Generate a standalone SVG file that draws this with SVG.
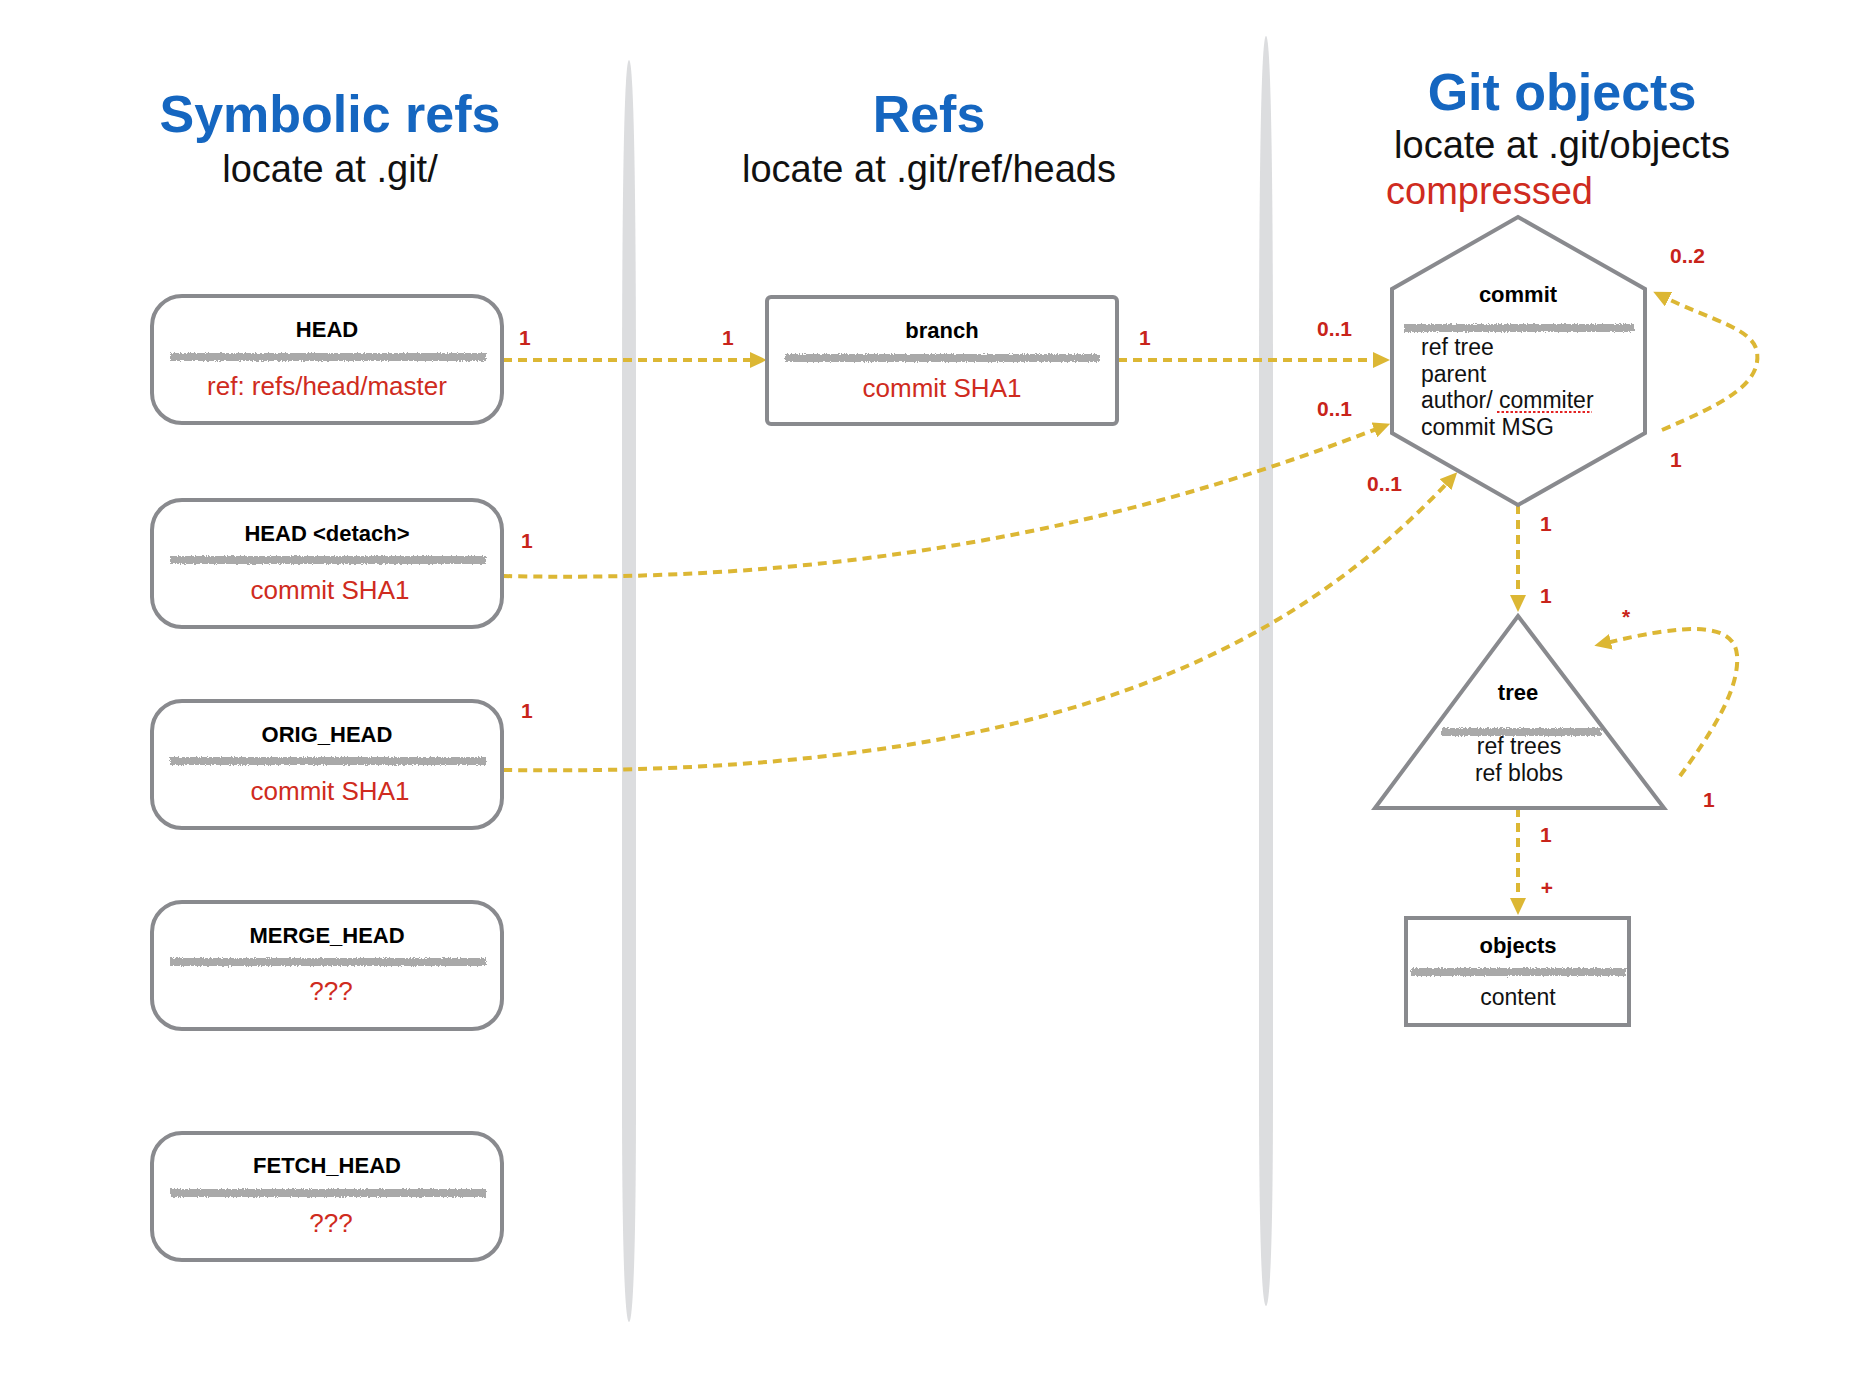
<svg xmlns="http://www.w3.org/2000/svg" width="1862" height="1374" viewBox="0 0 1862 1374">
<defs>
<style>
text{font-family:"Liberation Sans",Arial,sans-serif}
.box{fill:#fff;stroke:#898a8e;stroke-width:4}
.title{font-weight:bold;font-size:22px;fill:#000;text-anchor:middle}
.val{font-size:26px;fill:#cf2b20;text-anchor:middle}
.body{font-size:23px;fill:#111}
.bodyc{font-size:23px;fill:#111;text-anchor:middle}
.lbl{font-weight:bold;font-size:21px;fill:#c8241a}
.sep{stroke:#a9a9a9;stroke-width:8;filter:url(#rough)}
.conn{fill:none;stroke:#dcb734;stroke-width:4;stroke-dasharray:9 6;marker-end:url(#arr)}
.head{font-weight:bold;font-size:52px;fill:#1566c0;text-anchor:middle}
.sub{font-size:38px;fill:#111;text-anchor:middle}
.vsep{fill:#dcdddf}
</style>
<filter id="rough" filterUnits="userSpaceOnUse" x="0" y="0" width="1862" height="1374">
<feTurbulence type="fractalNoise" baseFrequency="0.7" numOctaves="2" seed="3" result="n"/>
<feDisplacementMap in="SourceGraphic" in2="n" scale="4" xChannelSelector="R" yChannelSelector="G"/>
</filter>
<marker id="arr" markerUnits="userSpaceOnUse" markerWidth="18" markerHeight="16" refX="5" refY="8" orient="auto">
<path d="M0,0 L17,8 L0,16 z" fill="#dcb734"/>
</marker>
</defs>
<rect width="1862" height="1374" fill="#fff"/>

<!-- column separators -->
<path class="vsep" d="M629,60 C634,60 636,200 636,400 L636,1100 C636,1250 633,1322 629,1322 C625,1322 622,1250 622,1100 L622,400 C622,200 624,60 629,60 z"/>
<path class="vsep" fill="#e2e3e5" d="M1266,36 C1271,36 1273,180 1273,380 L1273,1090 C1273,1240 1270,1306 1266,1306 C1262,1306 1259,1240 1259,1090 L1259,380 C1259,180 1261,36 1266,36 z"/>

<!-- headings -->
<g id="headings">
<text class="head" x="330" y="132">Symbolic refs</text>
<text class="sub" x="330" y="182">locate at .git/</text>
<text class="head" x="929" y="132">Refs</text>
<text class="sub" x="929" y="182">locate at .git/ref/heads</text>
<text class="head" x="1562" y="110">Git objects</text>
<text class="sub" x="1562" y="158">locate at .git/objects</text>
<text x="1386" y="204" font-size="38" fill="#cf2b20">compressed</text>
</g>

<!-- connectors -->
<g id="connectors">
<path class="conn" d="M503,360 L755,360"/>
<path class="conn" d="M1118,360 L1378,360"/>
<path class="conn" d="M503,576 C900,585 1180,505 1379,428"/>
<path class="conn" d="M503,770 C1050,778 1290,650 1449,481"/>
<path class="conn" d="M1518,505 L1518,600"/>
<path class="conn" d="M1518,808 L1518,903"/>
<path class="conn" d="M1662,430 C1720,405 1762,385 1757,352 C1753,328 1710,320 1664,297"/>
<path class="conn" d="M1680,776 C1710,735 1740,690 1737,655 C1734,620 1680,625 1606,643"/>
<text class="lbl" x="519" y="345">1</text>
<text class="lbl" x="722" y="345">1</text>
<text class="lbl" x="1139" y="345">1</text>
<text class="lbl" x="1317" y="336">0..1</text>
<text class="lbl" x="1317" y="416">0..1</text>
<text class="lbl" x="1367" y="491">0..1</text>
<text class="lbl" x="1670" y="263">0..2</text>
<text class="lbl" x="1670" y="467">1</text>
<text class="lbl" x="521" y="548">1</text>
<text class="lbl" x="521" y="718">1</text>
<text class="lbl" x="1540" y="531">1</text>
<text class="lbl" x="1540" y="603">1</text>
<text class="lbl" x="1626" y="624" font-size="50" text-anchor="middle">*</text>
<text class="lbl" x="1703" y="807">1</text>
<text class="lbl" x="1540" y="842">1</text>
<text class="lbl" x="1547" y="895" text-anchor="middle">+</text>
</g>

<!-- symbolic refs -->
<g id="node-head">
<rect class="box" x="152" y="296" width="350" height="127" rx="30"/>
<text class="title" x="327" y="337">HEAD</text>
<line class="sep" x1="170" y1="357" x2="486" y2="357"/>
<text class="val" x="327" y="395">ref: refs/head/master</text>
</g>
<g id="node-head-detach">
<rect class="box" x="152" y="500" width="350" height="127" rx="30"/>
<text class="title" x="327" y="541">HEAD &lt;detach&gt;</text>
<line class="sep" x1="170" y1="560" x2="486" y2="560"/>
<text class="val" x="330" y="599">commit SHA1</text>
</g>
<g id="node-orig-head">
<rect class="box" x="152" y="701" width="350" height="127" rx="30"/>
<text class="title" x="327" y="742">ORIG_HEAD</text>
<line class="sep" x1="170" y1="761" x2="486" y2="761"/>
<text class="val" x="330" y="800">commit SHA1</text>
</g>
<g id="node-merge-head">
<rect class="box" x="152" y="902" width="350" height="127" rx="30"/>
<text class="title" x="327" y="943">MERGE_HEAD</text>
<line class="sep" x1="170" y1="962" x2="486" y2="962"/>
<text class="val" x="331" y="1000">???</text>
</g>
<g id="node-fetch-head">
<rect class="box" x="152" y="1133" width="350" height="127" rx="30"/>
<text class="title" x="327" y="1173">FETCH_HEAD</text>
<line class="sep" x1="170" y1="1193" x2="486" y2="1193"/>
<text class="val" x="331" y="1232">???</text>
</g>

<!-- refs -->
<g id="node-branch">
<rect class="box" x="767" y="297" width="350" height="127" rx="4"/>
<text class="title" x="942" y="338">branch</text>
<line class="sep" x1="785" y1="358" x2="1100" y2="358"/>
<text class="val" x="942" y="397">commit SHA1</text>
</g>

<!-- git objects -->
<g id="node-commit">
<polygon class="box" points="1518,217 1645,289 1645,433 1518,505 1392,433 1392,289"/>
<text class="title" x="1518" y="302">commit</text>
<line class="sep" x1="1404" y1="328" x2="1634" y2="328"/>
<text class="body" x="1421" y="355">ref tree</text>
<text class="body" x="1421" y="382">parent</text>
<text class="body" x="1421" y="408">author/ commiter</text>
<text class="body" x="1421" y="435">commit MSG</text>
<line x1="1497" y1="412" x2="1592" y2="412" stroke="#e42222" stroke-width="2.2" stroke-dasharray="2.5 2"/>
</g>
<g id="node-tree">
<polygon class="box" points="1518,616 1664,808 1375,808"/>
<text class="title" x="1518" y="700">tree</text>
<line class="sep" x1="1441" y1="732" x2="1601" y2="732"/>
<text class="bodyc" x="1519" y="754">ref trees</text>
<text class="bodyc" x="1519" y="781">ref blobs</text>
</g>
<g id="node-objects">
<rect class="box" x="1406" y="918" width="223" height="107"/>
<text class="title" x="1518" y="953">objects</text>
<line class="sep" x1="1411" y1="972" x2="1626" y2="972"/>
<text class="bodyc" x="1518" y="1005">content</text>
</g>
</svg>
